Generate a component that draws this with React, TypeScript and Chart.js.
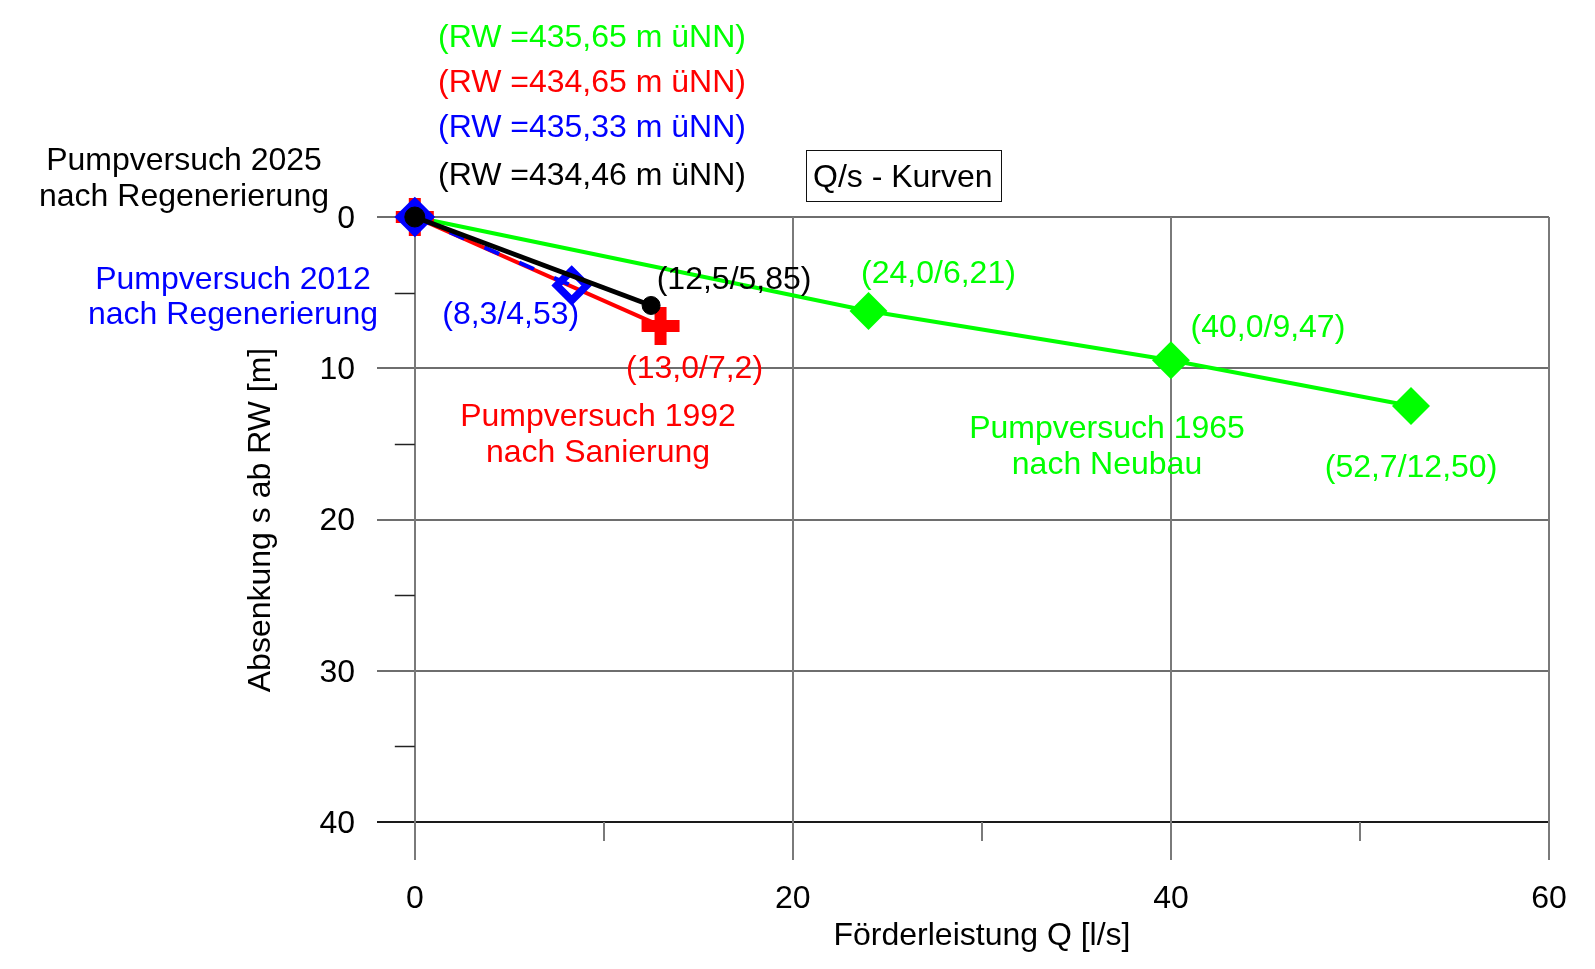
import { useEffect, useRef } from "react";
import { Chart, registerables } from "chart.js";

Chart.register(...registerables);

// Q [l/s] and s [m] per pumping test
const q1965 = [0, 24.0, 40.0, 52.7];
const s1965 = [0, 6.21, 9.47, 12.5];
const lbl1965 = ["", "(24,0/6,21)", "(40,0/9,47)", "(52,7/12,50)"];

const q1992 = [0, 13.0];
const s1992 = [0, 7.2];
const lbl1992 = ["", "(13,0/7,2)"];

const q2012 = [0, 8.3];
const s2012 = [0, 4.53];
const lbl2012 = ["", "(8,3/4,53)"];

const q2025 = [0, 12.5];
const s2025 = [0, 5.85];
const lbl2025 = ["", "(12,5/5,85)"];

const xTicks = [0, 20, 40, 60];
const xMinorTicks = [10, 30, 50];
const yTicks = [0, 10, 20, 30, 40];
const yMinorTicks = [5, 15, 25, 35];

const rwLines = ["(RW =435,65 m üNN)", "(RW =434,65 m üNN)", "(RW =435,33 m üNN)", "(RW =434,46 m üNN)"];
const seriesNames1965 = ["Pumpversuch 1965", "nach Neubau"];
const seriesNames1992 = ["Pumpversuch 1992", "nach Sanierung"];
const seriesNames2012 = ["Pumpversuch 2012", "nach Regenerierung"];
const seriesNames2025 = ["Pumpversuch 2025", "nach Regenerierung"];
const xTitle = "Förderleistung Q [l/s]";
const yTitle = "Absenkung s ab RW [m]";
const boxTitle = "Q/s - Kurven";

const GREEN = "#00ff00";
const RED = "#ff0000";
const BLUE = "#0000ff";
const BLACK = "#000000";
const FONT = '32px "Liberation Sans", Arial, sans-serif';
const DY = 2;

const pts = (q: number[], s: number[]) => q.map((v, i) => ({ x: v, y: s[i] }));

const decorPlugin = {
  id: "decor",
  beforeDatasetsDraw(chart: any) {
    const { ctx, scales } = chart;
    const xs = scales.x;
    const ys = scales.y;
    const left = xs.getPixelForValue(-2);
    const right = xs.getPixelForValue(60);
    const top = ys.getPixelForValue(0);
    const bottom = ys.getPixelForValue(40);
    ctx.save();
    ctx.lineWidth = 2;
    yTicks.forEach((v) => {
      const y = Math.round(ys.getPixelForValue(v));
      ctx.strokeStyle = v === 40 ? "#1a1a1a" : "#6e6e6e";
      ctx.beginPath();
      ctx.moveTo(left, y);
      ctx.lineTo(right, y);
      ctx.stroke();
    });
    ctx.strokeStyle = "#7a7a7a";
    xTicks.forEach((v) => {
      const x = Math.round(xs.getPixelForValue(v));
      ctx.beginPath();
      ctx.moveTo(x, top);
      ctx.lineTo(x, bottom + 38);
      ctx.stroke();
    });
    xMinorTicks.forEach((v) => {
      const x = Math.round(xs.getPixelForValue(v));
      ctx.beginPath();
      ctx.moveTo(x, bottom);
      ctx.lineTo(x, bottom + 19);
      ctx.stroke();
    });
    ctx.strokeStyle = "#222";
    ctx.lineWidth = 1.5;
    const x0 = xs.getPixelForValue(0);
    yMinorTicks.forEach((v) => {
      const y = Math.round(ys.getPixelForValue(v)) + 0.5;
      ctx.beginPath();
      ctx.moveTo(x0 - 20, y);
      ctx.lineTo(x0, y);
      ctx.stroke();
    });
    ctx.restore();
  },
  afterDatasetsDraw(chart: any) {
    const { ctx, scales } = chart;
    const xs = scales.x;
    const ys = scales.y;
    const bottom = ys.getPixelForValue(40);
    ctx.save();
    ctx.font = FONT;
    ctx.textBaseline = "middle";

    ctx.fillStyle = BLACK;
    ctx.textAlign = "right";
    yTicks.forEach((v) => ctx.fillText(String(v), 355, ys.getPixelForValue(v) + DY));
    ctx.textAlign = "center";
    xTicks.forEach((v) => ctx.fillText(String(v), xs.getPixelForValue(v), bottom + 75 + DY));

    ctx.fillText(xTitle, 982, 934 + DY);
    ctx.save();
    ctx.translate(259 + DY, 520);
    ctx.rotate(-Math.PI / 2);
    ctx.fillText(yTitle, 0, 0);
    ctx.restore();

    const drawLabels = (q: number[], s: number[], lbl: string[], color: string, offs: number[][]) => {
      ctx.fillStyle = color;
      ctx.textAlign = "center";
      lbl.forEach((t, i) => {
        if (!t) return;
        const px = xs.getPixelForValue(q[i]);
        const py = ys.getPixelForValue(s[i]);
        ctx.fillText(t, px + offs[i][0], py + offs[i][1] + DY);
      });
    };
    drawLabels(q1965, s1965, lbl1965, GREEN, [[0, 0], [70, -39], [97, -34], [0, 60]]);
    drawLabels(q1992, s1992, lbl1992, RED, [[0, 0], [34, 41]]);
    drawLabels(q2012, s2012, lbl2012, BLUE, [[0, 0], [-61, 28]]);
    drawLabels(q2025, s2025, lbl2025, BLACK, [[0, 0], [83, -27]]);

    const twoLines = (lines: string[], color: string, cx: number, y1: number, gap: number) => {
      ctx.fillStyle = color;
      ctx.textAlign = "center";
      lines.forEach((t, i) => ctx.fillText(t, cx, y1 + i * gap + DY));
    };
    twoLines(seriesNames2025, BLACK, 184, 159, 36);
    twoLines(seriesNames2012, BLUE, 233, 278, 35);
    twoLines(seriesNames1992, RED, 598, 415, 36);
    twoLines(seriesNames1965, GREEN, 1107, 427, 36);

    const rwColors = [GREEN, RED, BLUE, BLACK];
    const rwY = [36, 81, 126, 174];
    ctx.textAlign = "left";
    rwLines.forEach((t, i) => {
      ctx.fillStyle = rwColors[i];
      ctx.fillText(t, 438, rwY[i] + DY);
    });

    ctx.fillStyle = BLACK;
    ctx.fillText(boxTitle, 813, 176 + DY);
    ctx.strokeStyle = "#111";
    ctx.lineWidth = 1;
    ctx.strokeRect(806.5, 150.5, 195, 51);

    ctx.restore();
  },
};

export default function App() {
  const ref = useRef<HTMLCanvasElement>(null);
  useEffect(() => {
    const chart = new Chart(ref.current as HTMLCanvasElement, {
      type: "scatter",
      data: {
        datasets: [
          {
            label: "2025",
            data: pts(q2025, s2025),
            showLine: true,
            borderColor: BLACK,
            backgroundColor: BLACK,
            borderWidth: 5,
            pointStyle: "circle",
            pointRadius: [10, 9],
            pointBorderWidth: 1,
            pointBackgroundColor: BLACK,
            pointBorderColor: BLACK,
            clip: false,
          } as any,
          {
            label: "2012",
            data: pts(q2012, s2012),
            showLine: true,
            borderColor: BLUE,
            borderWidth: 4,
            borderDash: [16, 22],
            pointStyle: "rectRot",
            pointRadius: 15,
            pointBorderWidth: 7.5,
            pointBackgroundColor: "rgba(0,0,0,0)",
            pointBorderColor: BLUE,
            clip: false,
          } as any,
          {
            label: "1992",
            data: pts(q1992, s1992),
            showLine: true,
            borderColor: RED,
            borderWidth: 4,
            pointStyle: "cross",
            pointRadius: 19,
            pointBorderWidth: 12,
            pointBackgroundColor: RED,
            pointBorderColor: RED,
            clip: false,
          } as any,
          {
            label: "1965",
            data: pts(q1965, s1965),
            showLine: true,
            borderColor: GREEN,
            borderWidth: 4,
            pointStyle: "rectRot",
            pointRadius: 19,
            pointBorderWidth: 0,
            pointBackgroundColor: GREEN,
            pointBorderColor: GREEN,
            clip: false,
          } as any,
        ],
      },
      options: {
        animation: false,
        responsive: false,
        devicePixelRatio: 1,
        layout: { padding: { left: 377, right: 46, top: 217, bottom: 147 } },
        plugins: { legend: { display: false }, tooltip: { enabled: false } },
        events: [],
        scales: {
          x: { type: "linear", min: -2, max: 60, display: false },
          y: { type: "linear", min: 0, max: 40, reverse: true, display: false },
        },
      } as any,
      plugins: [decorPlugin],
    });
    return () => chart.destroy();
  }, []);
  return (
    <div style={{ position: "fixed", left: 0, top: 0, width: 1595, height: 969, background: "#fff" }}>
      <canvas ref={ref} width={1595} height={969} style={{ width: 1595, height: 969, display: "block" }} />
    </div>
  );
}
